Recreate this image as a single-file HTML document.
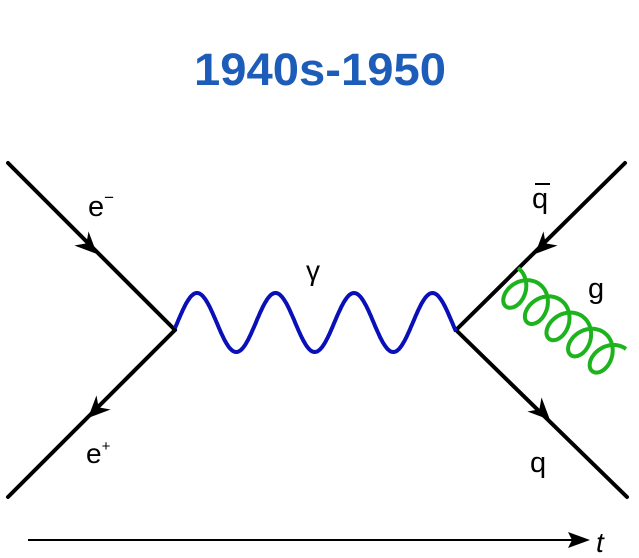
<!DOCTYPE html>
<html><head><style>
html,body{margin:0;padding:0;background:#fff;width:639px;height:558px;overflow:hidden}
svg{display:block}
text{font-family:"Liberation Sans",sans-serif}
</style></head><body>
<svg width="639" height="558" viewBox="0 0 639 558">
<text x="320" y="85" text-anchor="middle" font-size="45" font-weight="bold" fill="#1d5db9" textLength="252" lengthAdjust="spacingAndGlyphs">1940s-1950</text>
<g stroke="#000" stroke-width="4" stroke-linecap="round" fill="none">
<line x1="8" y1="163" x2="175" y2="330"/>
<line x1="175" y1="330" x2="8" y2="497"/>
<line x1="625" y1="163" x2="456" y2="330"/>
<line x1="456" y1="330" x2="627" y2="497"/>
</g>
<g fill="#000">
<polygon points="0,0 -22,-10 -15,0 -22,10" transform="translate(97,254) rotate(45)"/>
<polygon points="0,0 -22,-10 -15,0 -22,10" transform="translate(88,418) rotate(135)"/>
<polygon points="0,0 -22,-10 -15,0 -22,10" transform="translate(535,254) rotate(135)"/>
<polygon points="0,0 -22,-10 -15,0 -22,10" transform="translate(550,420) rotate(45)"/>
</g>
<path id="wave" fill="none" stroke="#0a10b8" stroke-width="4"/>
<path id="gluon" fill="none" stroke="#1db31d" stroke-width="4"/>
<line x1="28" y1="540" x2="578" y2="540" stroke="#000" stroke-width="2"/>
<polygon points="590,540 568,532 572,540 568,548" fill="#000"/>
<text x="596" y="552" font-size="28" font-style="italic">t</text>
<text x="88" y="216" font-size="29">e<tspan font-size="17" dy="-13">−</tspan></text>
<text x="86" y="463" font-size="28">e<tspan font-size="15" dy="-12">+</tspan></text>
<text x="306" y="280" font-size="28">γ</text>
<text x="532" y="208" font-size="29">q</text>
<line x1="535" y1="184" x2="550" y2="184" stroke="#000" stroke-width="2"/>
<text x="588" y="298" font-size="29">g</text>
<text x="530" y="472" font-size="29">q</text>
</svg>
<script>
(function(){
var d="";
for(var i=0;i<=300;i++){var x=175+(456-175)*i/300;var y=322.5-29.5*Math.cos(2*Math.PI*(x-197)/78.5);
d+=(i?"L":"M")+x.toFixed(1)+","+y.toFixed(1);}
document.getElementById("wave").setAttribute("d",d);
var ax=518,ay=268,ux=0.8,uy=0.6,nx=-0.6,ny=0.8,L=135,loops=5,g="";
for(var i=0;i<=800;i++){var t=i/800;var th=2*Math.PI*loops*t;
var s=L*t+15*Math.sin(th);var p=19*(1-Math.cos(th));
var x=ax+ux*s+nx*p,y=ay+uy*s+ny*p;g+=(i?"L":"M")+x.toFixed(1)+","+y.toFixed(1);}
document.getElementById("gluon").setAttribute("d",g);
})();
</script>
</body></html>
